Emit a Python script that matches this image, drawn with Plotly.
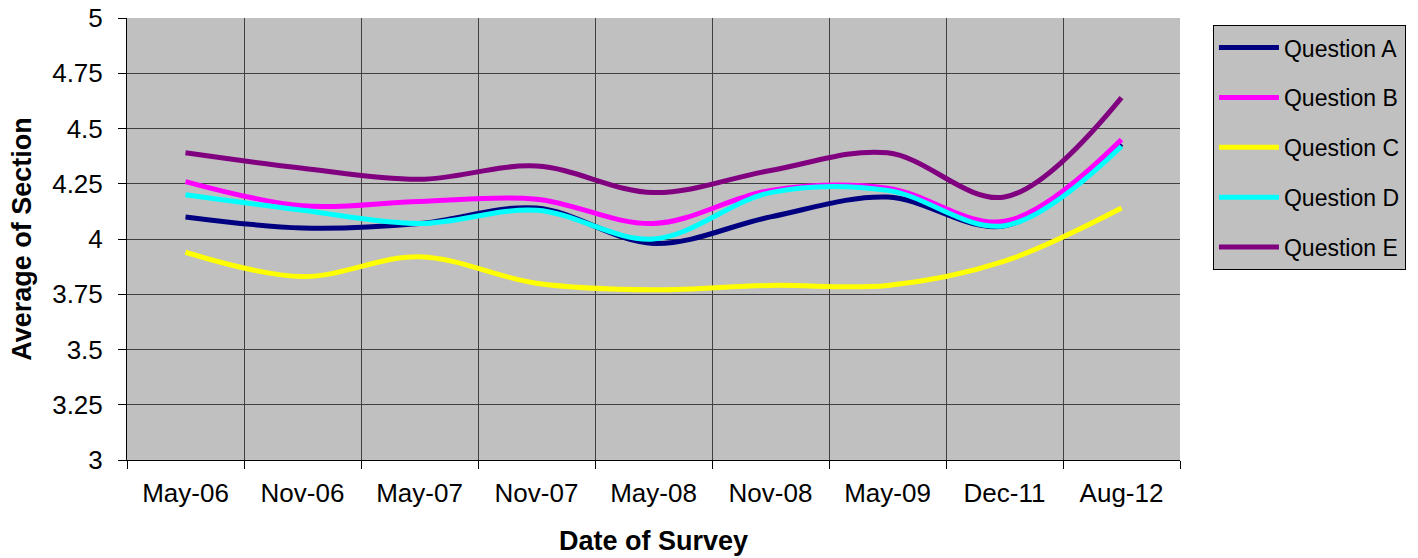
import plotly.graph_objects as go

# Survey dates (categories) and the average score per question
dates = ["May-06", "Nov-06", "May-07", "Nov-07", "May-08", "Nov-08", "May-09", "Dec-11", "Aug-12"]
question_a = [4.10, 4.05, 4.07, 4.14, 3.98, 4.10, 4.19, 4.06, 4.43]
question_b = [4.26, 4.15, 4.17, 4.18, 4.07, 4.22, 4.23, 4.08, 4.45]
question_c = [3.94, 3.83, 3.92, 3.80, 3.77, 3.79, 3.79, 3.90, 4.14]
question_d = [4.20, 4.13, 4.07, 4.13, 4.00, 4.21, 4.22, 4.06, 4.42]
question_e = [4.39, 4.32, 4.27, 4.33, 4.21, 4.31, 4.39, 4.19, 4.64]
y_ticks = [3, 3.25, 3.5, 3.75, 4, 4.25, 4.5, 4.75, 5]
y_tick_text = ["3", "3.25", "3.5", "3.75", "4", "4.25", "4.5", "4.75", "5"]

series = [
    ("Question A", question_a, "#000080"),
    ("Question B", question_b, "#FF00FF"),
    ("Question C", question_c, "#FFFF00"),
    ("Question D", question_d, "#00FFFF"),
    ("Question E", question_e, "#800080"),
]

FONT = "Liberation Sans, Arial, sans-serif"

fig = go.Figure()
for name, values, color in series:
    fig.add_trace(go.Scatter(
        x=dates, y=values, name=name, mode="lines",
        line=dict(color=color, width=5, shape="spline", smoothing=1),
        legendgroup=name,
    ))

fig.update_layout(
    width=1418, height=558,
    margin=dict(l=127, r=238, t=18, b=98, autoexpand=False),
    paper_bgcolor="white",
    plot_bgcolor="#C0C0C0",
    font=dict(family=FONT, color="black"),
    showlegend=True,
    legend=dict(
        x=1.0313, xanchor="left", y=0.984, yanchor="top",
        bgcolor="#C0C0C0", bordercolor="black", borderwidth=1,
        font=dict(size=23, family=FONT, color="black"),
        tracegroupgap=17, itemwidth=60,
    ),
    xaxis=dict(
        type="category", range=[-0.5, 8.5], tickson="boundaries",
        showgrid=True, gridcolor="#404040", gridwidth=1,
        showline=True, linecolor="black", linewidth=1,
        ticks="outside", ticklen=8, tickcolor="black",
        tickfont=dict(size=26, family=FONT, color="black"),
        ticklabelstandoff=10, automargin=False,
        title=dict(text="<b>Date of Survey</b>", font=dict(size=27, family=FONT, color="black"), standoff=23),
    ),
    yaxis=dict(
        range=[3, 5], tickvals=y_ticks, ticktext=y_tick_text,
        showgrid=True, gridcolor="#404040", gridwidth=1,
        showline=True, linecolor="black", linewidth=1,
        ticks="outside", ticklen=8, tickcolor="black",
        tickfont=dict(size=26, family=FONT, color="black"),
        ticklabelstandoff=10, zeroline=False, automargin=False,
        title=dict(text="<b>Average of Section</b>", font=dict(size=27, family=FONT, color="black"), standoff=12),
    ),
)

fig.write_html("out.html")
